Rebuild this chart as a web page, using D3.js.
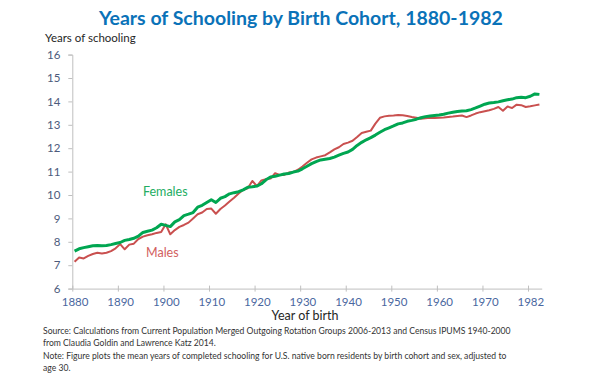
<!DOCTYPE html>
<html>
<head>
<meta charset="utf-8">
<script src="https://cdn.jsdelivr.net/npm/d3@7"></script>
<style>
	body { margin: 0; background: #fff; }
	svg { display: block; font-family: Lato, "Open Sans", sans-serif; }
</style>
</head>
<body>
<svg id="chart" width="600" height="378"></svg>
<script>
// data, one value per birth year 1880..1982
const years = d3.range(1880, 1983);

const females = [
	7.60, 7.70, 7.75, 7.79, 7.83, 7.84, 7.83, 7.84, 7.88, 7.93,
	7.97, 8.06, 8.10, 8.15, 8.24, 8.40, 8.45, 8.50, 8.60, 8.75,
	8.70, 8.65, 8.85, 8.95, 9.12, 9.18, 9.25, 9.48, 9.56, 9.68,
	9.80, 9.68, 9.86, 9.93, 10.05, 10.10, 10.14, 10.22, 10.33, 10.35,
	10.38, 10.48, 10.65, 10.77, 10.80, 10.85, 10.90, 10.92, 10.98, 11.02,
	11.12, 11.23, 11.34, 11.43, 11.50, 11.53, 11.56, 11.62, 11.70, 11.78,
	11.84, 11.95, 12.12, 12.25, 12.36, 12.45, 12.56, 12.68, 12.79, 12.87,
	12.95, 13.04, 13.08, 13.15, 13.19, 13.24, 13.30, 13.35, 13.38, 13.40,
	13.42, 13.45, 13.50, 13.54, 13.57, 13.59, 13.60, 13.65, 13.72, 13.80,
	13.88, 13.93, 13.95, 13.98, 14.03, 14.07, 14.10, 14.16, 14.18, 14.16,
	14.22, 14.32, 14.30
];

const males = [
	7.15, 7.33, 7.29, 7.40, 7.48, 7.53, 7.50, 7.53, 7.60, 7.72,
	7.90, 7.68, 7.88, 7.92, 8.12, 8.22, 8.28, 8.32, 8.38, 8.42,
	8.75, 8.32, 8.50, 8.64, 8.72, 8.82, 9.00, 9.18, 9.25, 9.40,
	9.42, 9.20, 9.40, 9.55, 9.72, 9.88, 10.06, 10.22, 10.29, 10.60,
	10.38, 10.62, 10.68, 10.70, 10.93, 10.86, 10.86, 10.96, 10.98, 11.08,
	11.22, 11.38, 11.52, 11.60, 11.65, 11.70, 11.82, 11.95, 12.04, 12.18,
	12.24, 12.32, 12.48, 12.65, 12.70, 12.75, 13.05, 13.30, 13.36, 13.39,
	13.40, 13.42, 13.41, 13.38, 13.33, 13.30, 13.26, 13.28, 13.30, 13.29,
	13.30, 13.31, 13.33, 13.35, 13.38, 13.40, 13.33, 13.40, 13.48, 13.54,
	13.58, 13.62, 13.68, 13.76, 13.60, 13.78, 13.72, 13.86, 13.84, 13.76,
	13.79, 13.83, 13.87
];

const yTicks = [6, 7, 8, 9, 10, 11, 12, 13, 14, 15, 16];
const xTickYears = [1880, 1890, 1900, 1910, 1920, 1930, 1940, 1950, 1960, 1970, 1980];
const xTickLabels = ["1880", "1890", "1900", "1910", "1920", "1930", "1940", "1950", "1960", "1970", "1982"];

const width = 600,
	height = 378;
const plot = { left: 72.3, right: 541.7, top: 54.6, bottom: 288.6 };

const svg = d3.select("#chart").attr("viewBox", [0, 0, width, height]);

// category axis: each year owns a slot, points sit in the middle
const x_scale = d3
	.scaleLinear()
	.domain([years[0] - 0.5, years[years.length - 1] + 0.5])
	.range([plot.left, plot.right]);
const y_scale = d3.scaleLinear().domain([6, 16]).range([plot.bottom, plot.top]);
const halfSlot = (x_scale(1881) - x_scale(1880)) / 2;

// title
svg
	.append("text")
	.attr("x", 301)
	.attr("y", 25)
	.attr("text-anchor", "middle")
	.style("font-size", "19.5px")
	.style("font-weight", "bold")
	.style("fill", "#0a72b8")
	.text("Years of Schooling by Birth Cohort, 1880-1982");

svg
	.append("text")
	.attr("x", 45)
	.attr("y", 42)
	.style("font-size", "11.5px")
	.style("fill", "#262626")
	.text("Years of schooling");

// y axis
const y_axis = d3.axisLeft(y_scale).tickValues(yTicks).tickSize(4).tickPadding(8);
const gy = svg.append("g").attr("transform", `translate(${plot.left},0)`).call(y_axis);
gy.select(".domain").attr("stroke", "#bfbfbf");
gy.selectAll(".tick line").attr("stroke", "#bfbfbf");
gy.selectAll(".tick text")
	.style("font-size", "11.5px")
	.style("font-family", "Lato, sans-serif")
	.style("fill", "#4d5b7c");

// x axis
const x_axis = d3
	.axisBottom(x_scale)
	.tickValues(xTickYears)
	.tickFormat((d, i) => xTickLabels[i])
	.tickSizeOuter(0)
	.tickSize(0)
	.tickPadding(9);
const gx = svg.append("g").attr("transform", `translate(0,${plot.bottom})`).call(x_axis);
gx.select(".domain").attr("stroke", "#bfbfbf");
gx.selectAll(".tick line")
	.attr("x1", -halfSlot)
	.attr("x2", -halfSlot)
	.attr("y1", -3)
	.attr("y2", 3)
	.attr("stroke", "#bfbfbf");
gx.selectAll(".tick text")
	.style("font-size", "11.5px")
	.style("font-family", "Lato, sans-serif")
	.style("fill", "#4a67a0");

svg
	.append("text")
	.attr("x", 305)
	.attr("y", 320)
	.attr("text-anchor", "middle")
	.style("font-size", "12.5px")
	.style("fill", "#262626")
	.text("Year of birth");

// lines
const line = (vals) =>
	d3
		.line()
		.x((d, i) => x_scale(years[i]))
		.y((d) => y_scale(d))(vals);

svg
	.append("path")
	.attr("d", line(males))
	.attr("fill", "none")
	.attr("stroke", "#c9504f")
	.attr("stroke-width", 2)
	.attr("stroke-linejoin", "round");

svg
	.append("path")
	.attr("d", line(females))
	.attr("fill", "none")
	.attr("stroke", "#00a651")
	.attr("stroke-width", 3)
	.attr("stroke-linejoin", "round");

// series labels
svg
	.append("text")
	.attr("x", 143)
	.attr("y", 196)
	.style("font-size", "12.5px")
	.style("fill", "#22ad62")
	.text("Females");

svg
	.append("text")
	.attr("x", 146)
	.attr("y", 257)
	.style("font-size", "12.5px")
	.style("fill", "#d2605e")
	.text("Males");

// footnote
const notes = [
	"Source: Calculations from Current Population Merged Outgoing Rotation Groups 2006-2013 and Census IPUMS 1940-2000",
	"from Claudia Goldin and Lawrence Katz 2014.",
	"Note: Figure plots the mean years of completed schooling for U.S. native born residents by birth cohort and sex, adjusted to",
	"age 30."
];
svg
	.append("g")
	.selectAll("text")
	.data(notes)
	.join("text")
	.attr("x", 43)
	.attr("y", (d, i) => 334 + i * 12.3)
	.style("font-size", "8.6px")
	.style("fill", "#333")
	.text((d) => d);
</script>
</body>
</html>
